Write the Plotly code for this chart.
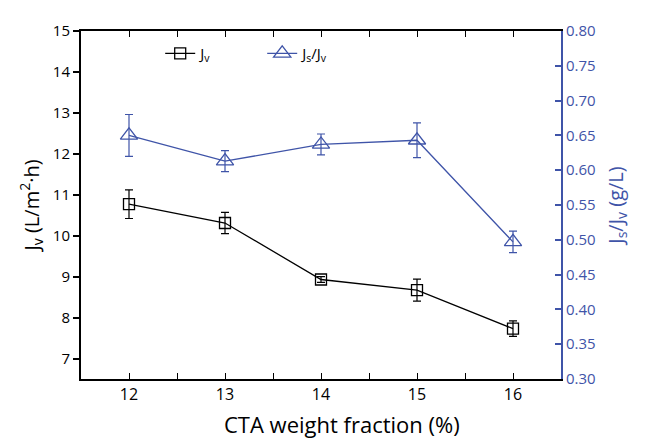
import plotly.graph_objects as go

fraction = [12, 13, 14, 15, 16]
jv = [10.77, 10.31, 8.93, 8.67, 7.73]
jv_err = [0.35, 0.26, 0.07, 0.27, 0.19]
js_jv = [0.650, 0.613, 0.637, 0.643, 0.497]
js_jv_err = [0.030, 0.015, 0.015, 0.025, 0.0155]

BLUE = "#3F54A8"
FONT = "Open Sans"

fig = go.Figure()
fig.add_trace(go.Scatter(
    x=fraction, y=jv, name="J<sub>v</sub>", mode="lines+markers",
    line=dict(color="black", width=1.3),
    marker=dict(symbol="square-open", size=11, color="black", line=dict(width=1.3)),
    error_y=dict(type="data", array=jv_err, color="black", thickness=1.2, width=4),
))
fig.add_trace(go.Scatter(
    x=fraction, y=js_jv, name="J<sub>s</sub>/J<sub>v</sub>", mode="lines+markers",
    yaxis="y2",
    line=dict(color=BLUE, width=1.3),
    marker=dict(symbol="triangle-up-open", size=15, color=BLUE, line=dict(width=1.3)),
    error_y=dict(type="data", array=js_jv_err, color=BLUE, thickness=1.2, width=4),
))

# page body has an 8px margin, so the figure is offset by 8px
fig.update_layout(
    width=643, height=433,
    margin=dict(l=73, r=90, t=16, b=62),
    plot_bgcolor="white", paper_bgcolor="white",
    font=dict(family=FONT, size=15, color="black"),
    showlegend=True,
    legend=dict(orientation="h", x=0.165, y=0.935, xanchor="left", yanchor="middle",
                bgcolor="rgba(0,0,0,0)", font=dict(size=15),
                entrywidth=57, entrywidthmode="pixels"),
    xaxis=dict(
        range=[11.5, 16.5], tickvals=fraction, ticktext=[str(v) for v in fraction],
        ticks="inside", ticklen=6, tickwidth=1.3, tickcolor="black",
        minor=dict(dtick=0.5, ticks="inside", ticklen=3, tickwidth=1.2, tickcolor="black"),
        showline=True, linecolor="black", linewidth=1.5, mirror="allticks",
        showgrid=False, zeroline=False,
        tickfont=dict(size=16),
    ),
    yaxis=dict(
        range=[6.5, 15], dtick=1, tick0=7,
        ticks="outside", ticklen=6, tickwidth=1.5, tickcolor="black",
        showline=True, linecolor="black", linewidth=2,
        showgrid=False, zeroline=False,
        title=dict(text="J<sub>v</sub> (L/m<sup>2</sup>·h)", font=dict(size=20), standoff=8),
        tickfont=dict(size=15),
    ),
    yaxis2=dict(
        range=[0.3, 0.8], dtick=0.05, tick0=0.3, tickformat=".2f",
        overlaying="y", side="right",
        ticks="inside", ticklen=6, tickwidth=1.5, tickcolor=BLUE,
        showline=True, linecolor=BLUE, linewidth=2,
        showgrid=False, zeroline=False,
        title=dict(text="J<sub>s</sub>/J<sub>v</sub> (g/L)", font=dict(size=20, color=BLUE), standoff=14),
        tickfont=dict(size=15, color=BLUE),
    ),
    annotations=[dict(
        text="CTA weight fraction (%)", xref="paper", yref="paper",
        x=0.544, y=-0.128, xanchor="center", yanchor="middle",
        showarrow=False, font=dict(size=22, color="black"),
    )],
)

fig.write_html("out.html")
